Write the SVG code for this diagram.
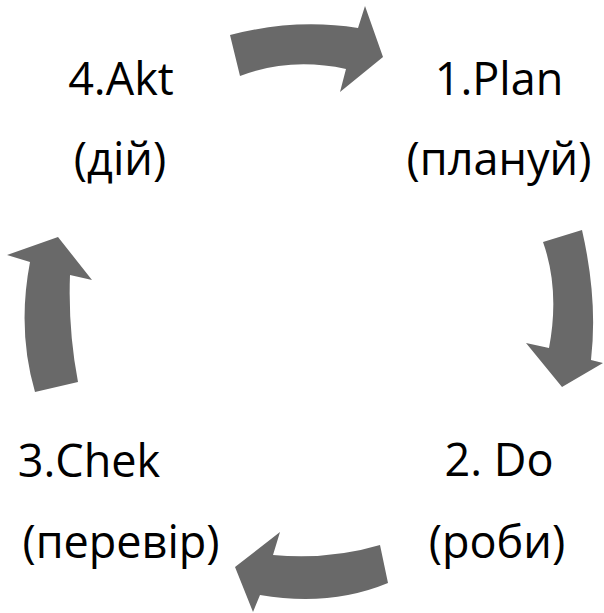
<svg xmlns="http://www.w3.org/2000/svg" width="604" height="613" viewBox="0 0 604 613">
<style>
.t{font-family:"Open Sans","Noto Sans",sans-serif;font-size:45px;fill:#000;text-anchor:middle}
.a{fill:#696969}
</style>
<rect width="604" height="613" fill="#fff"/>
<g id="connectors">
<path class="a" d="M230,35 Q295,18 358,28 L365,6 L383,57 L340,92 L346,69 Q290,57 240,76 Z"/>
<path class="a" d="M543,242 L582,230 Q598,300 591,360 L603,363 L562,387 L526,343 L549,348 Q560,290 543,242 Z"/>
<path class="a" d="M380,545 Q330,560 273,555 L280,532 L235,567 L253,612 L260,595 Q330,607 388,583 Z"/>
<path class="a" d="M35,392 Q17,330 30,262 L7,255 L58,237 L92,280 L70,275 Q68,330 78,382 Z"/>
</g>
<g id="plan"><text class="t" x="499" y="95">1.Plan</text><text class="t" x="499" y="175">(плануй)</text></g>
<g id="do"><text class="t" x="499" y="476">2. Do</text><text class="t" x="497" y="558">(роби)</text></g>
<g id="check"><text class="t" x="89" y="477">3.Chek</text><text class="t" x="121" y="558">(перевір)</text></g>
<g id="act"><text class="t" x="121" y="95">4.Akt</text><text class="t" x="120" y="175">(дій)</text></g>
</svg>
